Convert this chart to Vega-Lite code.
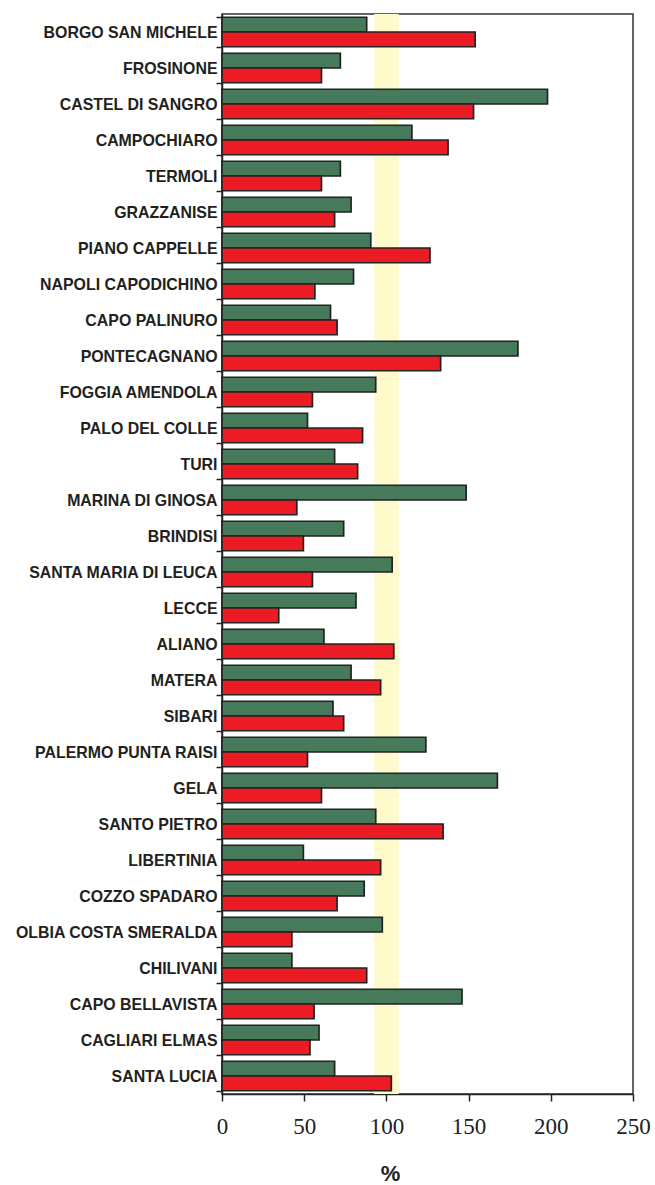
{
  "$schema": "https://vega.github.io/schema/vega-lite/v6.json",
  "autosize": {"type": "none"},
  "padding": {"left": 222, "top": 14, "right": 22, "bottom": 91},
  "width": 411,
  "height": 1080,
  "background": "white",
  "config": {
    "view": {"stroke": "#333333", "strokeWidth": 1.5},
    "axis": {"domainColor": "#222222", "domainWidth": 1.5, "tickColor": "#222222", "tickWidth": 1.5, "grid": false}
  },
  "layer": [
    {
      "data": {"values": [{"lo": 92.5, "hi": 107.5}]},
      "mark": {"type": "rect", "color": "#fffacc"},
      "encoding": {
        "x": {"field": "lo", "type": "quantitative", "title": "%", "scale": {"domain": [0, 250], "nice": false}},
        "x2": {"field": "hi"}
      }
    },
    {
      "data": {"values": [
        {"stazione": "BORGO SAN MICHELE", "serie": "A", "valore": 88},
        {"stazione": "BORGO SAN MICHELE", "serie": "B", "valore": 154},
        {"stazione": "FROSINONE", "serie": "A", "valore": 72},
        {"stazione": "FROSINONE", "serie": "B", "valore": 60.5},
        {"stazione": "CASTEL DI SANGRO", "serie": "A", "valore": 198},
        {"stazione": "CASTEL DI SANGRO", "serie": "B", "valore": 153},
        {"stazione": "CAMPOCHIARO", "serie": "A", "valore": 115.5},
        {"stazione": "CAMPOCHIARO", "serie": "B", "valore": 137.5},
        {"stazione": "TERMOLI", "serie": "A", "valore": 72},
        {"stazione": "TERMOLI", "serie": "B", "valore": 60.5},
        {"stazione": "GRAZZANISE", "serie": "A", "valore": 78.5},
        {"stazione": "GRAZZANISE", "serie": "B", "valore": 68.5},
        {"stazione": "PIANO CAPPELLE", "serie": "A", "valore": 90.5},
        {"stazione": "PIANO CAPPELLE", "serie": "B", "valore": 126.5},
        {"stazione": "NAPOLI CAPODICHINO", "serie": "A", "valore": 80},
        {"stazione": "NAPOLI CAPODICHINO", "serie": "B", "valore": 56.5},
        {"stazione": "CAPO PALINURO", "serie": "A", "valore": 66},
        {"stazione": "CAPO PALINURO", "serie": "B", "valore": 70},
        {"stazione": "PONTECAGNANO", "serie": "A", "valore": 180},
        {"stazione": "PONTECAGNANO", "serie": "B", "valore": 133},
        {"stazione": "FOGGIA AMENDOLA", "serie": "A", "valore": 93.5},
        {"stazione": "FOGGIA AMENDOLA", "serie": "B", "valore": 55},
        {"stazione": "PALO DEL COLLE", "serie": "A", "valore": 52},
        {"stazione": "PALO DEL COLLE", "serie": "B", "valore": 85.5},
        {"stazione": "TURI", "serie": "A", "valore": 68.5},
        {"stazione": "TURI", "serie": "B", "valore": 82.5},
        {"stazione": "MARINA DI GINOSA", "serie": "A", "valore": 148.5},
        {"stazione": "MARINA DI GINOSA", "serie": "B", "valore": 45.5},
        {"stazione": "BRINDISI", "serie": "A", "valore": 74},
        {"stazione": "BRINDISI", "serie": "B", "valore": 49.5},
        {"stazione": "SANTA  MARIA DI LEUCA", "serie": "A", "valore": 103.5},
        {"stazione": "SANTA  MARIA DI LEUCA", "serie": "B", "valore": 55},
        {"stazione": "LECCE", "serie": "A", "valore": 81.5},
        {"stazione": "LECCE", "serie": "B", "valore": 34.5},
        {"stazione": "ALIANO", "serie": "A", "valore": 62},
        {"stazione": "ALIANO", "serie": "B", "valore": 104.5},
        {"stazione": "MATERA", "serie": "A", "valore": 78.5},
        {"stazione": "MATERA", "serie": "B", "valore": 96.5},
        {"stazione": "SIBARI", "serie": "A", "valore": 67.5},
        {"stazione": "SIBARI", "serie": "B", "valore": 74},
        {"stazione": "PALERMO PUNTA RAISI", "serie": "A", "valore": 124},
        {"stazione": "PALERMO PUNTA RAISI", "serie": "B", "valore": 52},
        {"stazione": "GELA", "serie": "A", "valore": 167.5},
        {"stazione": "GELA", "serie": "B", "valore": 60.5},
        {"stazione": "SANTO PIETRO", "serie": "A", "valore": 93.5},
        {"stazione": "SANTO PIETRO", "serie": "B", "valore": 134.5},
        {"stazione": "LIBERTINIA", "serie": "A", "valore": 49.5},
        {"stazione": "LIBERTINIA", "serie": "B", "valore": 96.5},
        {"stazione": "COZZO SPADARO", "serie": "A", "valore": 86.5},
        {"stazione": "COZZO SPADARO", "serie": "B", "valore": 70},
        {"stazione": "OLBIA COSTA SMERALDA", "serie": "A", "valore": 97.5},
        {"stazione": "OLBIA COSTA SMERALDA", "serie": "B", "valore": 42.5},
        {"stazione": "CHILIVANI", "serie": "A", "valore": 42.5},
        {"stazione": "CHILIVANI", "serie": "B", "valore": 88},
        {"stazione": "CAPO BELLAVISTA", "serie": "A", "valore": 146},
        {"stazione": "CAPO BELLAVISTA", "serie": "B", "valore": 56},
        {"stazione": "CAGLIARI ELMAS", "serie": "A", "valore": 59},
        {"stazione": "CAGLIARI ELMAS", "serie": "B", "valore": 53.5},
        {"stazione": "SANTA LUCIA", "serie": "A", "valore": 68.5},
        {"stazione": "SANTA LUCIA", "serie": "B", "valore": 103}
      ]},
      "mark": {"type": "bar", "stroke": "#222222", "strokeWidth": 1.7},
      "encoding": {
        "y": {
          "field": "stazione", "type": "nominal", "sort": null,
          "scale": {"paddingInner": 0.18, "paddingOuter": 0.09},
          "axis": {
            "title": null, "tickBand": "extent", "tickSize": 6, "labelPadding": -1,
            "labelFont": "Liberation Sans", "labelFontWeight": "bold", "labelFontSize": 15.9,
            "labelColor": "#231f20", "labelLimit": 300
          }
        },
        "yOffset": {"field": "serie", "type": "nominal", "sort": ["A", "B"], "scale": {"paddingInner": 0, "paddingOuter": 0}},
        "x": {
          "field": "valore", "type": "quantitative", "title": "%",
          "scale": {"domain": [0, 250], "nice": false},
          "axis": {
            "values": [0, 50, 100, 150, 200, 250], "tickSize": 7, "labelPadding": 14,
            "labelFont": "Liberation Serif", "labelFontSize": 23, "labelColor": "#222222",
            "labelFlush": false, "labelOverlap": false,
            "titleFont": "Liberation Sans", "titleFontWeight": "bold", "titleFontSize": 22,
            "titleColor": "#222222", "titleX": 168, "titleY": 79, "titleBaseline": "middle", "titleAlign": "center"
          }
        },
        "color": {"field": "serie", "type": "nominal", "legend": null,
          "scale": {"domain": ["A", "B"], "range": ["#477a5b", "#ed1c24"]}}
      }
    }
  ]
}
